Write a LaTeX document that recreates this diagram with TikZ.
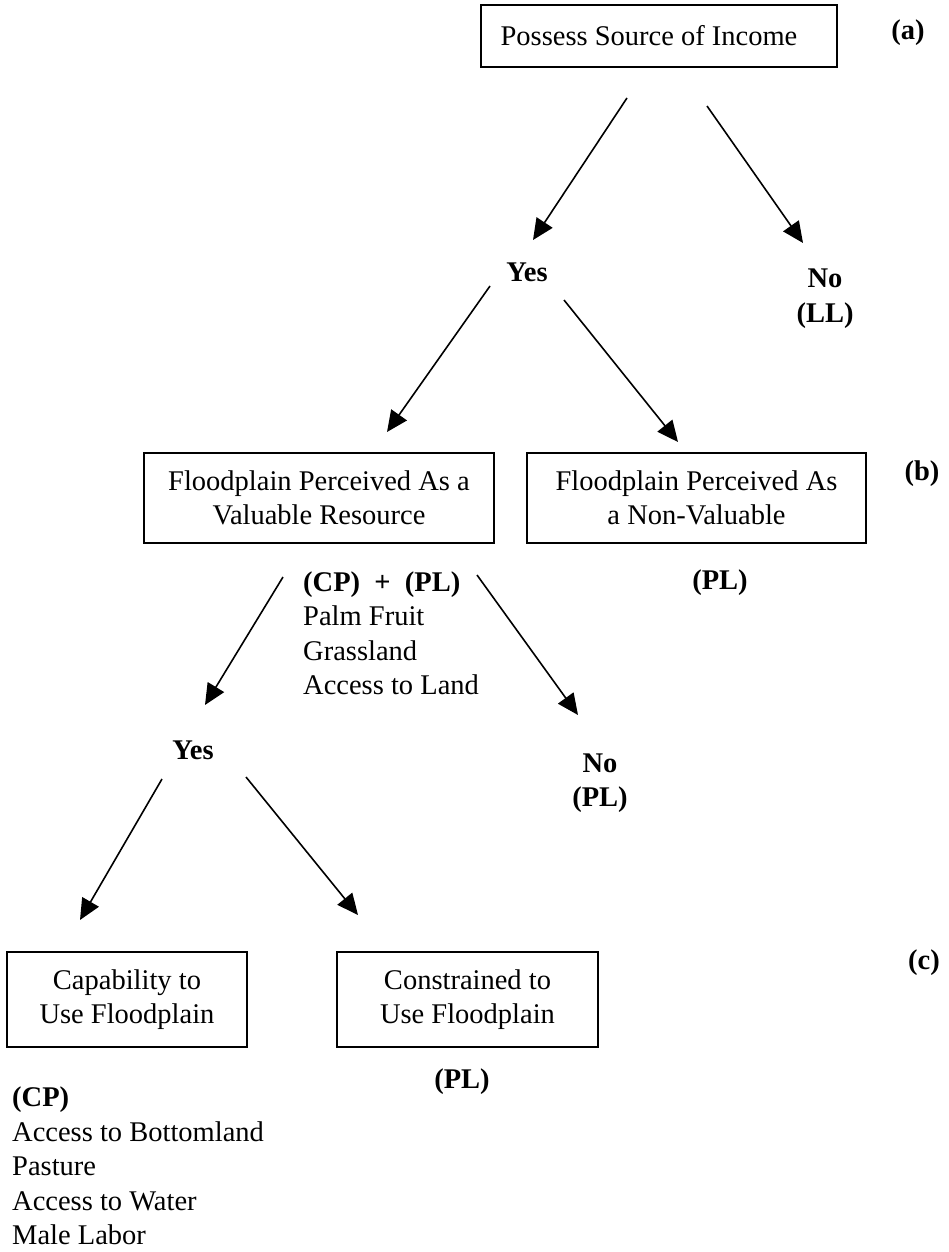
\documentclass[tikz,border=0pt]{standalone}
\usepackage{fontspec}
\setmainfont{Liberation Serif}
\usetikzlibrary{arrows.meta}
\begin{document}
\begin{tikzpicture}[x=1pt,y=-1pt,
  every node/.style={font=\fontsize{28.5}{34.5}\selectfont, inner sep=0pt},
  box/.style={draw, line width=1.8pt, align=center},
  lab/.style={font=\fontsize{28.5}{34.5}\selectfont\bfseries, align=center},
  arr/.style={line width=1.6pt, -{Triangle[length=21pt,width=19pt]}}]
\useasboundingbox (0,0) rectangle (948,1252);

% boxes
\node[box, minimum width=356pt, minimum height=62pt] (A) at (659,36) {\hspace*{-20pt}Possess Source of Income};
\node[box, minimum width=350pt, minimum height=90pt] (B1) at (319,498) {Floodplain Perceived As a\\Valuable Resource};
\node[box, minimum width=339pt, minimum height=90pt] (B2) at (696.5,498) {Floodplain Perceived As\\a Non-Valuable};
\node[box, minimum width=240pt, minimum height=95pt] (C1) at (127,999.5) {Capability to\\Use Floodplain};
\node[box, minimum width=261pt, minimum height=95pt] (C2) at (467.5,999.5) {Constrained to\\Use Floodplain};

% labels
\node[lab] (la) at (908,33) {(a)};
\node[lab] (lb) at (922,474) {(b)};
\node[lab] (lc) at (924,963) {(c)};
\node[lab] (yes1) at (527,272) {Yes};
\node[lab] (no1) at (825,298.5) {No\\(LL)};
\node[lab] (plb) at (720,583) {(PL)};
\node[lab] (yes2) at (193,750) {Yes};
\node[lab] (no2) at (600,783) {No\\(PL)};
\node[lab] (plc) at (462,1082) {(PL)};

\node[anchor=north west, align=left] (list1) at (303,571.5)
  {{\bfseries (CP)\ \ +\ \ (PL)}\\Palm Fruit\\Grassland\\Access to Land};
\node[anchor=north west, align=left] (list2) at (12,1087)
  {{\bfseries (CP)}\\Access to Bottomland\\Pasture\\Access to Water\\Male Labor};

% arrow end points
\coordinate (s1) at (627,98);  \coordinate (e1) at (533,240);
\coordinate (s2) at (707,106); \coordinate (e2) at (803,243);
\coordinate (s3) at (490,286); \coordinate (e3) at (387,432);
\coordinate (s4) at (564,300); \coordinate (e4) at (678,442);
\coordinate (s5) at (283,577); \coordinate (e5) at (205,705);
\coordinate (s6) at (477,575); \coordinate (e6) at (578,715);
\coordinate (s7) at (162,779); \coordinate (e7) at (80,920);
\coordinate (s8) at (246,777); \coordinate (e8) at (358,915);

\draw[arr] (s1) -- (e1);
\draw[arr] (s2) -- (e2);
\draw[arr] (s3) -- (e3);
\draw[arr] (s4) -- (e4);
\draw[arr] (s5) -- (e5);
\draw[arr] (s6) -- (e6);
\draw[arr] (s7) -- (e7);
\draw[arr] (s8) -- (e8);
\end{tikzpicture}
\end{document}
